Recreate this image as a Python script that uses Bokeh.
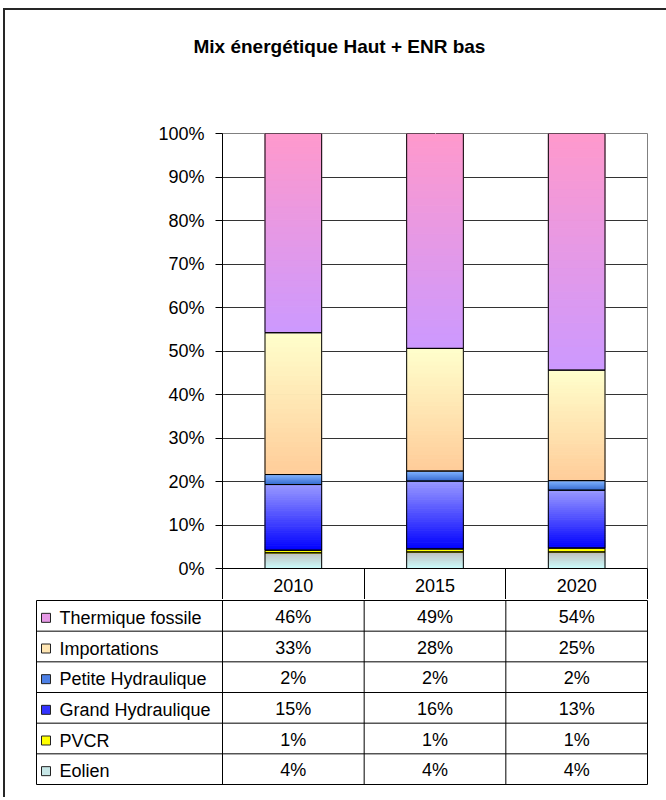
from bokeh.plotting import figure
from bokeh.models import Range1d, FixedTicker, LinearAxis, PrintfTickFormatter, Title
from bokeh.layouts import column
from bokeh.embed import file_html
from bokeh.resources import INLINE
from bokeh.core.properties import value

# ---------------- data ----------------
years = ["2010", "2015", "2020"]
series_names = ["Eolien", "PVCR", "Grand Hydraulique", "Petite Hydraulique",
                "Importations", "Thermique fossile"]
eolien = [3.6, 3.8, 3.8]
pvcr = [0.6, 0.7, 0.9]
grand_hydraulique = [15.1, 15.6, 13.3]
petite_hydraulique = [2.3, 2.3, 2.2]
importations = [32.6, 28.2, 25.4]
thermique_fossile = [45.8, 49.4, 54.4]
y_ticks = [0, 10, 20, 30, 40, 50, 60, 70, 80, 90, 100]
title_text = "Mix énergétique Haut + ENR bas"

series_values = [eolien, pvcr, grand_hydraulique, petite_hydraulique,
                 importations, thermique_fossile]

# ---------------- styles ----------------
FONT = "Liberation Sans"
grad_bottom = ["#CCFFFF", "#FFFF00", "#0000FF", "#3366CC", "#FFCC99", "#CC99FF"]
grad_top = ["#C0C0C0", "#FFFF00", "#9999FF", "#80B3FF", "#FFFFCC", "#FF99CC"]
legend_colors = ["#C6E6E6", "#FFFF00", "#3333FF", "#4D80E6", "#FFE6B3", "#E699E6"]
BAR_W = 0.4
N_STRIPS = 30


def hex2rgb(h):
    h = h.lstrip("#")
    return tuple(int(h[i:i + 2], 16) for i in (0, 2, 4))


def lerp(c1, c2, t):
    a, b = hex2rgb(c1), hex2rgb(c2)
    return "#%02x%02x%02x" % tuple(int(round(a[i] + (b[i] - a[i]) * t)) for i in range(3))


n_cat = len(years)
n_ser = len(series_names)
centers = [i + 0.5 for i in range(n_cat)]

# ---------------- top chart ----------------
p = figure(width=661, height=589, output_backend="svg", toolbar_location=None,
           title=None,
           x_range=Range1d(0, n_cat), y_range=Range1d(0, 100),
           x_axis_location=None, y_axis_location="left",
           min_border_left=217, min_border_right=19, min_border_top=123,
           min_border_bottom=31, background_fill_color="white",
           border_fill_color="white")
p.frame_align = False
p.outline_line_color = "#808080"
p.outline_line_width = 1

# empty space between the title and the plot area (Excel-like layout)
gap_axis = LinearAxis(ticker=FixedTicker(ticks=[centers[1]]), axis_line_color=None,
                      major_tick_line_color="white", minor_tick_line_color=None,
                      major_tick_in=0, major_tick_out=72, minor_tick_in=0,
                      minor_tick_out=0, major_label_standoff=0,
                      major_label_overrides={centers[1]: ""})
p.add_layout(gap_axis, "above")
p.add_layout(Title(text=title_text, align="left", offset=-29,
                   text_font=FONT, text_font_size="19px",
                   text_font_style="bold", text_color="black"), "above")

# y axis
p.yaxis.ticker = FixedTicker(ticks=y_ticks)
p.yaxis.formatter = PrintfTickFormatter(format="%d%%")
p.yaxis.major_label_text_font = FONT
p.yaxis.major_label_text_font_size = "18px"
p.yaxis.major_label_text_color = "black"
p.yaxis.major_tick_out = 7
p.yaxis.major_tick_in = 0
p.yaxis.minor_tick_line_color = None
p.yaxis.major_label_standoff = 11
p.yaxis.axis_line_color = "black"
p.yaxis.major_tick_line_color = "black"

p.xgrid.visible = False
p.ygrid.ticker = FixedTicker(ticks=y_ticks)
p.ygrid.grid_line_color = "#333333"
p.ygrid.grid_line_width = 1

# bottom axis (category labels + table header separators)
xaxis = LinearAxis(ticker=FixedTicker(ticks=centers, minor_ticks=list(range(n_cat + 1))))
xaxis.major_label_overrides = {c: y for c, y in zip(centers, years)}
xaxis.major_tick_line_color = None
xaxis.major_tick_in = 0
xaxis.major_tick_out = 0
xaxis.minor_tick_in = 0
xaxis.minor_tick_out = 31
xaxis.minor_tick_line_color = "black"
xaxis.axis_line_color = "black"
xaxis.major_label_standoff = -21
xaxis.major_label_text_font = FONT
xaxis.major_label_text_font_size = "18px"
xaxis.major_label_text_color = "black"
p.add_layout(xaxis, "below")

# gradient strips
sl, sr, sb, st, sc = [], [], [], [], []
ol, orr, ob, ot = [], [], [], []
for ci in range(n_cat):
    base = 0.0
    for si in range(n_ser):
        h = series_values[si][ci]
        for k in range(N_STRIPS):
            sl.append(centers[ci] - BAR_W / 2)
            sr.append(centers[ci] + BAR_W / 2)
            sb.append(base + h * k / N_STRIPS)
            st.append(base + h * (k + 1) / N_STRIPS)
            sc.append(lerp(grad_bottom[si], grad_top[si], (k + 0.5) / N_STRIPS))
        ol.append(centers[ci] - BAR_W / 2)
        orr.append(centers[ci] + BAR_W / 2)
        ob.append(base)
        ot.append(base + h)
        base += h

p.quad(left=sl, right=sr, bottom=sb, top=st, fill_color=sc, line_color=sc, line_width=1)
p.quad(left=ol, right=orr, bottom=ob, top=ot, fill_color=None, line_color="black", line_width=1)

# ---------------- data table ----------------
CAT_PX = 425 / n_cat
L = (222 - 36) / CAT_PX
pad_x = 1 / CAT_PX
ROW_PX = 184 / n_ser
pad_y = 1 / ROW_PX

t = figure(width=661, height=198, output_backend="svg", toolbar_location=None,
           x_range=Range1d(-L - pad_x, n_cat + pad_x),
           y_range=Range1d(n_ser + pad_y, -pad_y),
           x_axis_location=None, y_axis_location=None,
           min_border_left=30, min_border_right=18, min_border_top=0,
           min_border_bottom=12, outline_line_color=None,
           background_fill_color="white", border_fill_color="white")
t.frame_align = False
t.xgrid.visible = False
t.ygrid.visible = False

# grid lines
hx0 = [-L] * (n_ser + 1)
hx1 = [n_cat] * (n_ser + 1)
hy = list(range(n_ser + 1))
t.segment(x0=hx0, y0=hy, x1=hx1, y1=hy, line_color="black", line_width=1)
vx = [-L] + list(range(n_cat + 1))
t.segment(x0=vx, y0=[0] * len(vx), x1=vx, y1=[n_ser] * len(vx), line_color="black", line_width=1)

# rows: top row = last series (Thermique fossile)
row_names = list(reversed(series_names))
row_vals = list(reversed(series_values))
row_legend = list(reversed(legend_colors))
row_y = [i + 0.5 for i in range(n_ser)]

t.text(x=[-L] * n_ser, y=row_y, text=row_names, x_offset=23, y_offset=2,
       text_align="left", text_baseline="middle", text_font=value(FONT),
       text_font_size="18px", text_color="black")
t.rect(x=[-L + 9.5 / CAT_PX] * n_ser, y=[y + 2 / ROW_PX for y in row_y],
       width=9, height=9, width_units="screen", height_units="screen",
       fill_color=row_legend, line_color="#222222", line_width=1)

vx_, vy_, vt_ = [], [], []
for ri in range(n_ser):
    for ci in range(n_cat):
        vx_.append(centers[ci])
        vy_.append(row_y[ri])
        vt_.append("%d%%" % int(row_vals[ri][ci] + 0.5))
t.text(x=vx_, y=vy_, text=vt_, y_offset=1, text_align="center", text_baseline="middle",
       text_font=value(FONT), text_font_size="18px", text_color="black")

layout = column(p, t, spacing=0,
                styles={"border-top": "2px solid #262626", "border-left": "2px solid #262626",
                        "margin-left": "3px", "margin-top": "8px"})

open("out.html", "w").write(file_html(layout, INLINE))
